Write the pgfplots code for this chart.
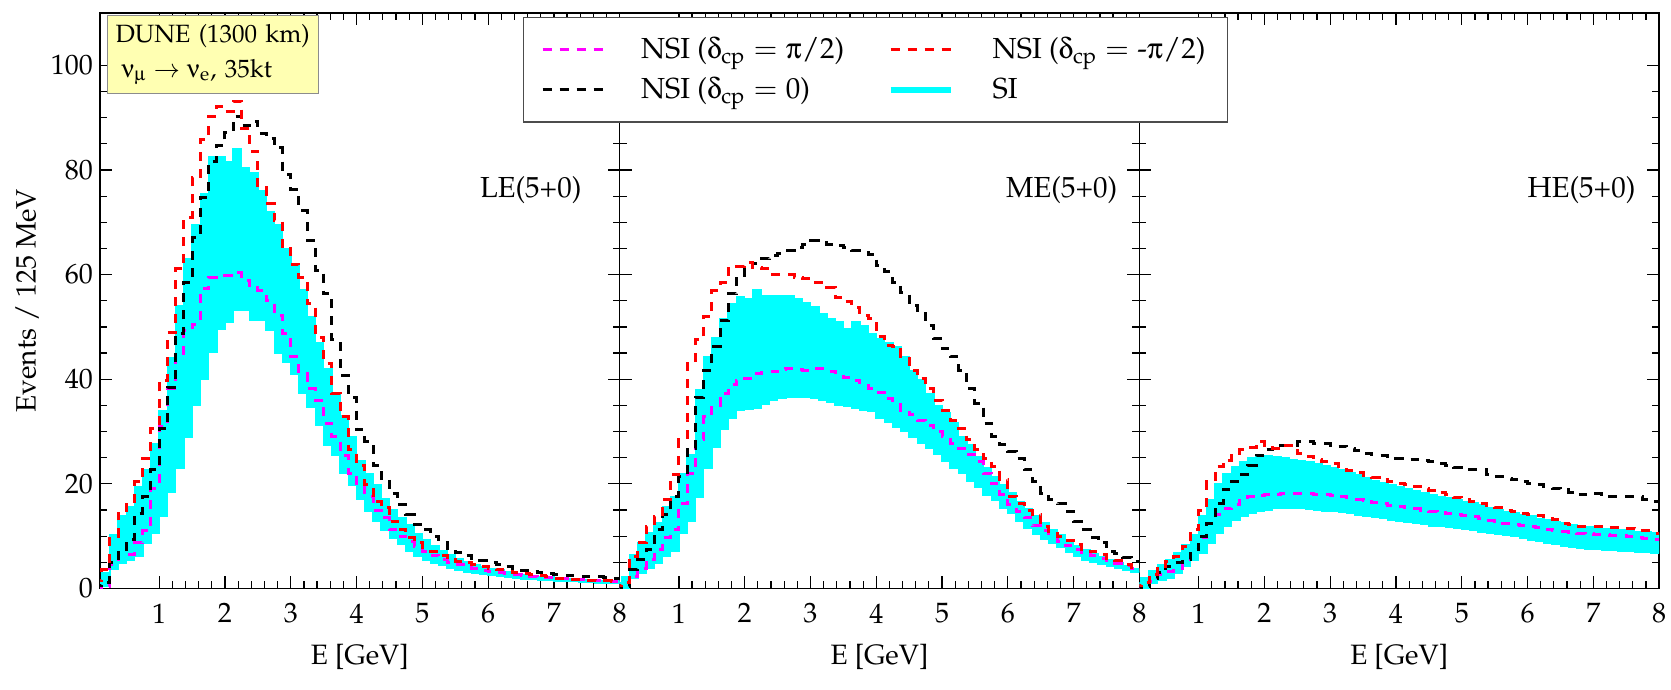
\documentclass[border=0pt]{standalone}
\usepackage[T1]{fontenc}
\usepackage{mathpazo}
\usepackage[Symbol]{upgreek}
\usepackage{pgfplots}
\usepackage{pgfplotstable}
\pgfplotsset{compat=1.18}
\usepgfplotslibrary{fillbetween}

\definecolor{infobg}{RGB}{255,255,178}
\definecolor{siband}{RGB}{0,255,255}
\definecolor{nsimag}{RGB}{255,0,255}
\definecolor{nsired}{RGB}{255,0,0}

% Events per 125 MeV bin; x = left edge of the bin
% lo/hi: SI band, mag: NSI dcp=pi/2, red: NSI dcp=-pi/2, blk: NSI dcp=0
\pgfplotstableread{
x     lo    hi    mag   red   blk
0.000 0.0   1.5   0.2   1.5   0.5
0.125 0.5   3.0   0.4   3.6   1.1
0.250 3.6   10.3  4.6   10.0  4.9
0.375 4.9   13.8  6.5   14.4  7.4
0.500 5.5   15.7  6.5   16.6  9.3
0.625 6.2   19.5  8.7   20.4  14.4
0.750 8.7   22.7  11.0  24.9  17.6
0.875 10.6  27.7  19.2  30.6  22.7
1.000 13.8  34.0  30.9  39.8  30.6
1.125 18.5  44.0  38.2  49.0  38.5
1.250 23.0  54.0  44.6  61.1  48.7
1.375 29.0  63.0  49.3  70.9  58.5
1.500 35.0  69.5  50.5  78.5  67.1
1.625 40.0  75.5  57.3  85.8  74.7
1.750 45.2  82.5  59.5  90.3  81.7
1.875 49.5  82.5  59.5  92.2  84.6
2.000 50.9  81.5  59.8  91.2  87.1
2.125 53.1  84.0  60.4  93.1  90.3
2.250 53.1  80.5  58.9  88.0  88.4
2.375 51.2  79.5  58.0  83.6  89.3
2.500 51.2  76.0  57.0  76.6  87.0
2.625 49.3  72.0  55.0  73.5  86.0
2.750 45.0  69.5  52.2  70.3  84.2
2.875 43.3  65.0  48.7  64.9  79.2
3.000 41.0  62.0  44.3  62.0  76.3
3.125 37.3  57.0  41.0  59.5  72.2
3.250 34.7  52.0  38.2  54.4  66.5
3.375 31.2  47.0  36.0  48.0  60.8
3.500 27.4  42.0  31.6  43.0  56.3
3.625 25.5  37.0  29.0  37.3  47.5
3.750 22.0  33.0  25.5  32.8  40.8
3.875 19.8  29.0  22.0  26.5  36.6
4.000 17.0  24.5  19.5  23.6  30.3
4.125 14.7  22.0  17.6  19.8  28.1
4.250 12.8  19.8  15.0  16.6  23.6
4.375 11.2  17.2  13.5  15.4  21.1
4.500 9.7   15.0  11.2  12.8  18.2
4.625 8.4   13.5  10.0  11.2  16.0
4.750 7.2   12.2  9.0   9.7   14.1
4.875 6.2   10.5  8.1   8.7   12.2
5.000 5.5   9.3   7.1   7.8   11.2
5.125 4.9   8.2   6.4   7.1   10.0
5.250 4.4   7.2   5.5   6.3   8.8
5.375 3.9   6.4   5.0   5.5   7.6
5.500 3.5   5.7   4.6   5.2   6.9
5.625 3.2   5.1   4.2   4.9   6.3
5.750 2.9   4.6   3.9   4.6   5.8
5.875 2.7   4.2   3.5   4.2   5.4
6.000 2.5   3.8   3.2   3.9   5.0
6.125 2.3   3.5   3.0   3.6   4.6
6.250 2.1   3.2   2.8   3.3   4.2
6.375 1.9   2.9   2.6   3.0   3.8
6.500 1.8   2.7   2.5   2.8   3.5
6.625 1.7   2.5   2.3   2.6   3.2
6.750 1.6   2.3   2.2   2.4   3.0
6.875 1.5   2.2   2.1   2.2   2.8
7.000 1.4   2.0   2.0   2.0   2.6
7.125 1.3   1.9   1.9   1.9   2.5
7.250 1.3   1.8   1.8   1.8   2.4
7.375 1.2   1.7   1.7   1.7   2.3
7.500 1.2   1.6   1.6   1.6   2.2
7.625 1.1   1.5   1.5   1.5   2.2
7.750 1.1   1.5   1.5   1.5   2.1
7.875 1.0   1.4   1.4   1.4   2.0
8.000 1.0   1.4   1.4   1.4   2.0
}\LEdata

\pgfplotstableread{
x     lo    hi    mag   red   blk
0.000 0.0   1.0   0.0   0.5   0.2
0.125 0.1   2.3   0.3   1.1   0.4
0.250 2.0   6.5   2.3   6.2   3.6
0.375 3.0   8.7   3.9   8.7   5.5
0.500 3.9   10.6  5.5   11.9  7.4
0.625 4.9   12.5  7.4   13.8  11.2
0.750 6.2   15.7  9.7   17.0  14.1
0.875 7.1   17.6  11.2  21.7  17.6
1.000 10.5  22.0  16.3  28.4  21.4
1.125 12.8  25.5  22.0  43.0  26.8
1.250 17.5  37.9  28.4  47.5  36.6
1.375 23.0  44.3  32.8  52.0  41.7
1.500 27.0  48.0  35.0  57.0  46.2
1.625 30.5  51.6  37.3  58.5  51.2
1.750 32.5  54.4  38.9  61.1  56.3
1.875 34.0  55.7  39.7  61.5  59.8
2.000 34.3  55.4  40.1  62.3  61.5
2.125 34.4  57.0  41.1  61.4  62.2
2.250 35.2  56.0  41.3  61.1  63.0
2.375 36.0  56.0  41.4  60.1  63.6
2.500 36.3  56.0  41.8  60.1  64.0
2.625 36.6  56.0  42.0  60.1  64.6
2.750 36.6  55.4  41.8  59.5  65.2
2.875 36.5  54.7  41.7  59.2  65.8
3.000 36.3  53.8  42.0  58.5  66.5
3.125 36.0  52.5  42.0  58.5  66.5
3.250 35.6  51.6  41.5  57.6  65.8
3.375 35.0  50.9  41.2  55.7  65.5
3.500 34.8  49.7  40.4  54.8  65.2
3.625 34.4  51.0  39.8  53.8  64.6
3.750 34.1  50.3  39.3  52.2  64.3
3.875 33.8  48.7  38.3  51.6  63.9
4.000 32.5  47.7  37.5  48.1  61.7
4.125 31.7  47.0  36.3  46.5  60.5
4.250 30.9  46.2  35.2  46.2  58.5
4.375 30.0  44.3  34.1  44.4  56.6
4.500 29.0  41.7  33.2  41.7  54.1
4.625 27.8  39.8  32.2  40.1  52.5
4.750 26.8  37.3  31.2  38.2  50.3
4.875 25.7  35.0  30.0  36.0  47.7
5.000 24.4  33.5  29.0  34.1  45.8
5.125 23.0  31.6  27.8  32.2  44.3
5.250 22.0  29.0  26.8  30.6  41.7
5.375 20.5  27.4  25.6  28.4  38.2
5.500 19.3  25.2  24.3  26.5  35.4
5.625 17.8  23.0  22.0  24.8  31.6
5.750 16.8  21.4  20.0  23.3  29.0
5.875 15.4  19.8  18.0  20.8  27.5
6.000 14.3  18.2  16.0  17.6  26.2
6.125 12.8  16.6  14.7  16.3  24.9
6.250 11.6  15.2  13.5  15.0  22.7
6.375 10.3  13.8  12.0  14.1  20.4
6.500 9.5   12.5  11.0  11.9  18.2
6.625 8.6   11.2  10.0  10.9  17.0
6.750 7.8   10.2  9.0   10.0  16.2
6.875 7.0   9.2   8.2   9.2   14.7
7.000 6.2   8.2   7.4   8.4   12.8
7.125 5.5   7.4   6.9   7.4   11.2
7.250 5.1   6.6   6.3   7.0   9.7
7.375 4.6   6.0   5.8   6.5   8.7
7.500 4.2   5.4   5.3   5.8   7.1
7.625 3.9   4.9   4.8   5.3   6.6
7.750 3.5   4.3   4.3   4.6   6.0
7.875 3.2   3.8   3.8   3.6   5.2
8.000 3.2   3.8   3.8   3.6   5.2
}\MEdata

\pgfplotstableread{
x     lo    hi    mag   red   blk
0.000 0.0   1.0   0.1   0.5   0.1
0.125 0.1   2.0   0.3   1.1   0.3
0.250 1.1   3.3   1.4   2.7   2.0
0.375 1.6   4.6   2.7   3.9   3.0
0.500 2.0   5.5   3.3   5.2   4.2
0.625 3.0   6.8   3.9   6.2   4.9
0.750 4.3   8.4   5.2   8.1   5.5
0.875 5.5   10.3  7.4   11.2  7.4
1.000 6.8   13.8  9.7   15.0  10.0
1.125 8.7   17.0  12.5  20.4  12.5
1.250 10.6  20.1  14.2  23.3  16.3
1.375 11.9  22.0  15.2  24.5  18.9
1.500 13.1  23.3  16.0  25.5  20.5
1.625 13.8  24.3  16.8  26.5  21.8
1.750 14.4  24.9  17.5  27.0  23.6
1.875 14.8  25.1  17.8  28.1  25.5
2.000 15.0  25.3  17.9  27.4  26.5
2.125 15.3  25.2  18.0  26.8  27.4
2.250 15.4  25.0  18.2  27.4  27.4
2.375 15.4  24.6  18.2  27.4  27.4
2.500 15.4  24.4  18.2  25.8  28.1
2.625 15.2  24.2  18.1  25.2  28.1
2.750 15.0  23.9  18.0  24.6  27.7
2.875 14.8  23.5  17.9  24.2  27.7
3.000 14.7  23.1  17.7  23.8  27.4
3.125 14.5  22.7  17.5  23.3  27.2
3.250 14.4  22.2  17.3  22.6  26.8
3.375 14.1  21.7  17.1  22.1  26.3
3.500 13.9  21.1  16.9  21.6  25.8
3.625 13.6  20.6  16.5  21.2  25.6
3.750 13.4  20.2  16.2  20.8  25.5
3.875 13.1  19.8  15.9  20.4  25.2
4.000 12.9  19.4  15.6  20.1  24.9
4.125 12.7  19.0  15.4  19.8  24.7
4.250 12.4  18.6  15.2  19.5  24.6
4.375 12.2  18.2  15.0  19.1  24.4
4.500 12.0  17.9  14.8  18.8  24.3
4.625 11.9  17.6  14.6  18.3  23.9
4.750 11.7  17.3  14.3  17.9  23.6
4.875 11.6  17.0  14.1  17.4  23.1
5.000 11.4  16.6  13.9  17.0  22.7
5.125 11.1  16.3  13.7  16.6  22.7
5.250 10.8  16.0  13.3  16.3  22.7
5.375 10.6  15.5  13.0  15.8  21.8
5.500 10.4  15.0  12.8  15.4  21.4
5.625 10.2  14.7  12.5  15.0  21.1
5.750 10.0  14.4  12.3  14.7  20.8
5.875 9.7   14.1  12.1  14.4  20.4
6.000 9.3   13.8  11.9  14.1  20.1
6.125 9.0   13.4  11.6  13.9  19.8
6.250 8.7   13.1  11.2  13.8  19.5
6.375 8.4   12.8  11.0  13.1  19.2
6.500 8.1   12.5  10.9  12.5  18.9
6.625 7.9   12.2  10.7  12.2  18.4
6.750 7.7   11.9  10.6  11.9  17.9
6.875 7.6   11.8  10.5  11.9  18.0
7.000 7.5   11.6  10.4  11.9  18.2
7.125 7.4   11.5  10.3  11.8  18.0
7.250 7.3   11.3  10.2  11.6  17.6
7.375 7.2   11.2  10.1  11.6  17.6
7.500 7.1   11.1  10.0  11.5  17.6
7.625 7.0   10.9  9.8   11.4  17.6
7.750 6.9   10.8  9.5   11.0  17.0
7.875 6.8   10.6  9.3   10.6  16.6
8.000 6.8   10.6  9.3   10.6  16.6
}\HEdata

\tikzset{
  panellabel/.style={anchor=east, font=\fontsize{14.5}{17}\selectfont},
  nsidash/.style={line width=1.5pt, dash pattern=on 4.5pt off 4pt},
}

\pgfplotsset{
  panel/.style={
    scale only axis, width=259.85pt, height=287.75pt,
    anchor=south west,
    xmin=0.1, xmax=8, ymin=0, ymax=110,
    xtick={1,...,8}, minor x tick num=4,
    ytick={0,20,...,100}, minor y tick num=3,
    tick align=inside, xtick pos=both, ytick pos=both,
    major tick length=6pt, minor tick length=3.5pt,
    axis line style={line width=0.7pt},
    every tick/.style={black, line width=0.6pt},
    tick label style={font=\fontsize{14}{16}\selectfont},
    xticklabel style={yshift=-4pt},
    label style={font=\fontsize{14}{16}\selectfont},
    xlabel={E [GeV]},
    xlabel style={at={(axis description cs:0.5,-0.119)}, anchor=center},
  },
  bandedge/.style={draw=none, const plot mark left, forget plot},
  nsi/.style={const plot mark left, nsidash, forget plot},
}

\newcommand{\drawpanel}[1]{%
  \addplot[bandedge, name path=hi] table[x=x, y=hi] {#1};
  \addplot[bandedge, name path=lo] table[x=x, y=lo] {#1};
  \addplot[fill=siband, draw=siband, line width=0.8pt, forget plot]
    fill between[of=hi and lo];
  \addplot[nsi, nsimag] table[x=x, y=mag] {#1};
  \addplot[nsi, black]  table[x=x, y=blk] {#1};
  \addplot[nsi, nsired] table[x=x, y=red] {#1};
}

\begin{document}
\begin{tikzpicture}

% LE beam
\begin{axis}[panel, at={(50pt,50.75pt)},
  ylabel={Events / 125 MeV},
  ylabel style={at={(axis description cs:-0.14,0.5)}, anchor=center}]
  \drawpanel{\LEdata}
  \node[panellabel] at (rel axis cs:0.940,0.692) {LE(5+0)};
  \node[draw=black!45, line width=0.6pt, fill=infobg, anchor=north west,
    inner xsep=4pt, inner ysep=3pt, text width=97.5pt, minimum height=39pt,
    align=left, font=\fontsize{12.5}{17.5}\selectfont]
    at (rel axis cs:0.0135,0.9965)
    {DUNE (1300 km)\\\hspace*{3pt}$\upnu_{\upmu} \rightarrow \upnu_{\mathrm{e}}$, 35kt};
\end{axis}

% ME beam
\begin{axis}[panel, at={(309.85pt,50.75pt)}, yticklabels={}]
  \drawpanel{\MEdata}
  \node[panellabel] at (rel axis cs:0.971,0.692) {ME(5+0)};
\end{axis}

% HE beam
\begin{axis}[panel, at={(569.7pt,50.75pt)}, yticklabels={}]
  \drawpanel{\HEdata}
  \node[panellabel] at (rel axis cs:0.968,0.692) {HE(5+0)};
\end{axis}

% shared legend, drawn last so that it covers the panel frames
\begin{axis}[at={(569.7pt,50.75pt)}, anchor=south west,
  scale only axis, width=259.85pt, height=287.75pt,
  xmin=0, xmax=1, ymin=0, ymax=1, hide axis,
  legend columns=2,
  legend cell align=left,
  legend image code/.code={\draw[#1] (0pt,0pt) -- (30pt,0pt);},
  legend style={at={(axis description cs:-1.187,0.993)}, anchor=north west,
    draw=black!70, line width=0.6pt, fill=white,
    font=\fontsize{14.5}{17}\selectfont,
    inner xsep=9pt, inner ysep=8pt, row sep=4.1pt, column sep=0pt,
    nodes={inner sep=2pt}}]
  \addlegendimage{nsimag, nsidash}
  \addlegendentry{\makebox[137.8pt][l]{\hspace*{16.5pt}NSI ($\updelta_{\mathrm{cp}} = \uppi/2$)}}
  \addlegendimage{nsired, nsidash}
  \addlegendentry{\hspace*{17.5pt}NSI ($\updelta_{\mathrm{cp}} = \mbox{-}\uppi/2$)}
  \addlegendimage{black, nsidash}
  \addlegendentry{\makebox[137.8pt][l]{\hspace*{16.5pt}NSI ($\updelta_{\mathrm{cp}} = 0$)}}
  \addlegendimage{siband, line width=3pt}
  \addlegendentry{\hspace*{17.5pt}SI}
\end{axis}

% fixed page frame around the three panels and their labels
\pgfresetboundingbox
\path[use as bounding box] (0,0) rectangle (835.5pt,345pt);
\end{tikzpicture}
\end{document}
